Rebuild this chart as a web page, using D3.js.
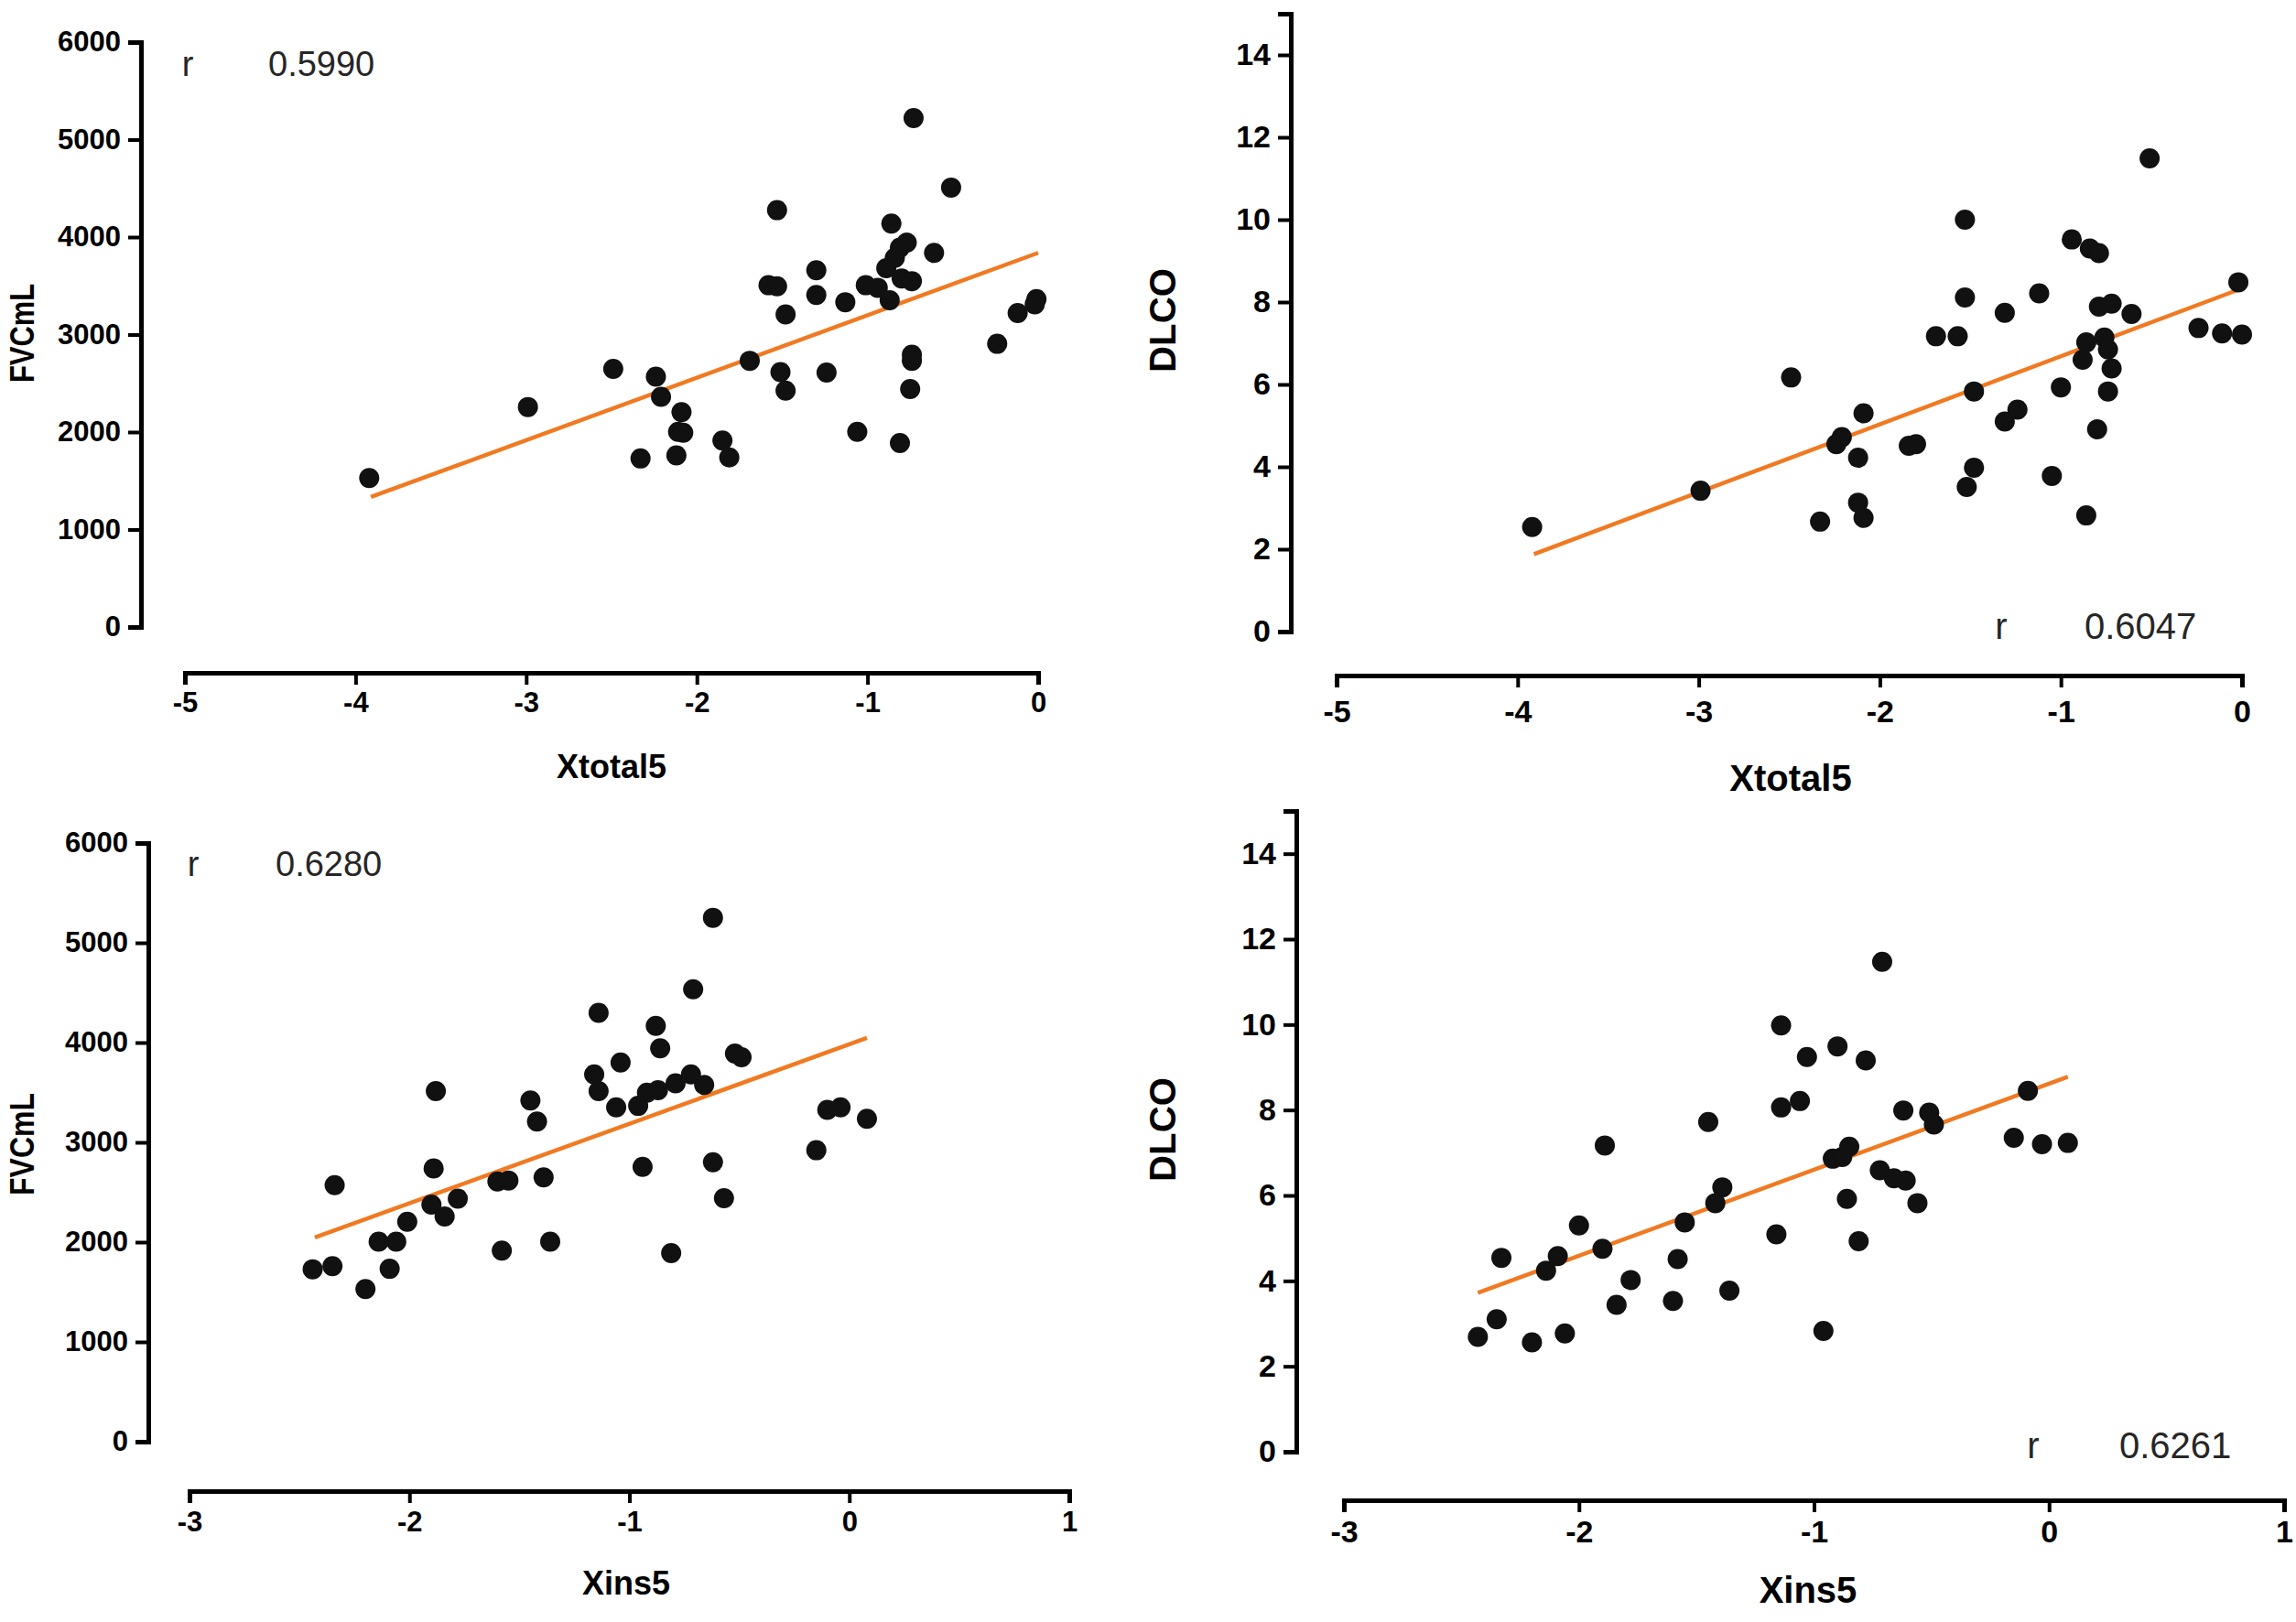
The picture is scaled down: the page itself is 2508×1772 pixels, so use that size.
<!DOCTYPE html>
<html>
<head>
<meta charset="utf-8">
<script src="https://cdn.jsdelivr.net/npm/d3@7"></script>
<style>
  body { margin: 0; background: #fff; }
  .tick text { font-family: "Liberation Sans", Arial, sans-serif; font-weight: bold; fill: #000; }
  .domain { stroke: #000; stroke-width: 5; }
  .tick line { stroke: #000; stroke-width: 4; }
  .ttl { font-family: "Liberation Sans", Arial, sans-serif; font-weight: bold; fill: #000; }
  .rtxt { font-family: "Liberation Sans", Arial, sans-serif; fill: #262626; }
</style>
</head>
<body>
<script>
// tick labels
var fvcTicks = [0, 1000, 2000, 3000, 4000, 5000, 6000];
var dlcoTicks = [0, 2, 4, 6, 8, 10, 12, 14];
var xtotalTicks = [-5, -4, -3, -2, -1, 0];
var xinsTicks = [-3, -2, -1, 0, 1];

// FVC (mL) vs Xtotal5
var fvcXtotal = [
  [-3.92,1529],[-2.99,2257],[-2.49,2647],[-2.24,2568],[-2.21,2362],[-2.33,1729],
  [-2.09,2204],[-2.11,2003],[-2.08,1993],[-2.12,1761],[-1.85,1914],[-1.81,1740],
  [-1.69,2731],[-1.58,3506],[-1.53,3496],[-1.53,4276],[-1.51,2615],[-1.48,2425],
  [-1.48,3206],[-1.30,3659],[-1.30,3406],[-1.24,2610],[-1.13,3332],[-1.06,2003],
  [-1.01,3506],[-0.94,3480],[-0.87,3353],[-0.86,4139],[-0.89,3680],[-0.84,3786],
  [-0.81,3891],[-0.77,3944],[-0.80,3575],[-0.74,3548],[-0.73,5220],[-0.74,2794],
  [-0.74,2731],[-0.75,2441],[-0.81,1888],[-0.61,3838],[-0.51,4508],[-0.24,2905],
  [-0.12,3221],[-0.02,3311],[-0.01,3364]
];

// DLCO vs Xtotal5
var dlcoXtotal = [
  [-3.92,2.54],[-2.99,3.42],[-2.49,6.17],[-2.33,2.67],[-2.24,4.55],[-2.21,4.72],
  [-2.12,4.22],[-2.12,3.13],[-2.09,2.76],[-2.09,5.30],[-1.84,4.51],[-1.80,4.55],
  [-1.69,7.17],[-1.57,7.17],[-1.53,10.0],[-1.53,8.11],[-1.52,3.51],[-1.48,5.83],
  [-1.48,3.98],[-1.31,7.74],[-1.31,5.10],[-1.24,5.39],[-1.12,8.21],[-1.05,3.78],
  [-1.00,5.93],[-0.94,9.52],[-0.88,6.60],[-0.86,7.02],[-0.86,2.82],[-0.84,9.30],
  [-0.79,9.19],[-0.80,4.91],[-0.79,7.89],[-0.76,7.14],[-0.74,6.85],[-0.72,7.96],
  [-0.72,6.39],[-0.74,5.83],[-0.61,7.71],[-0.51,11.49],[-0.24,7.37],[-0.11,7.24],
  [-0.02,8.48],[0.00,7.21]
];

// FVC (mL) vs Xins5
var fvcXins = [
  [-2.44,1728],[-2.35,1759],[-2.34,2571],[-2.20,1529],[-2.14,2005],[-2.06,2005],
  [-2.09,1733],[-2.01,2204],[-1.90,2377],[-1.89,2738],[-1.88,3513],[-1.84,2257],
  [-1.78,2435],[-1.60,2607],[-1.55,2618],[-1.58,1916],[-1.45,3419],[-1.42,3209],
  [-1.39,2649],[-1.36,2005],[-1.16,3681],[-1.14,3513],[-1.14,4298],[-1.06,3351],
  [-1.04,3801],[-0.96,3366],[-0.94,2754],[-0.92,3497],[-0.87,3523],[-0.88,4168],
  [-0.86,3942],[-0.81,1890],[-0.79,3592],[-0.72,3681],[-0.71,4534],[-0.66,3576],
  [-0.62,5251],[-0.62,2801],[-0.57,2440],[-0.52,3890],[-0.49,3853],[-0.15,2921],
  [-0.10,3325],[-0.04,3351],[0.08,3236]
];

// DLCO vs Xins5
var dlcoXins = [
  [-2.43,2.69],[-2.35,3.10],[-2.33,4.54],[-2.20,2.56],[-2.14,4.24],[-2.09,4.58],
  [-2.06,2.77],[-2.00,5.30],[-1.90,4.75],[-1.89,7.17],[-1.84,3.44],[-1.78,4.02],
  [-1.60,3.53],[-1.58,4.51],[-1.55,5.37],[-1.45,7.72],[-1.42,5.82],[-1.39,6.19],
  [-1.36,3.77],[-1.16,5.09],[-1.14,9.98],[-1.14,8.06],[-1.06,8.21],[-1.03,9.24],
  [-0.96,2.83],[-0.92,6.86],[-0.90,9.49],[-0.88,6.90],[-0.86,5.92],[-0.85,7.14],
  [-0.81,4.93],[-0.78,9.16],[-0.72,6.59],[-0.71,11.47],[-0.66,6.40],[-0.61,6.35],
  [-0.62,7.99],[-0.56,5.82],[-0.51,7.94],[-0.49,7.66],[-0.15,7.35],[-0.09,8.45],
  [-0.03,7.20],[0.08,7.23]
];

// fitted lines (end points)
var fitFvcXtotal = [[-3.91,1334],[0.00,3838]];
var fitDlcoXtotal = [[-3.91,1.88],[-0.02,8.30]];
var fitFvcXins = [[-2.43,2047],[0.08,4047]];
var fitDlcoXins = [[-2.43,3.72],[0.08,8.78]];

var rValues = ["0.5990", "0.6047", "0.6280", "0.6261"];

var W = 2508, H = 1772;
var svg = d3.select("body").append("svg").attr("width", W).attr("height", H);

var plain = function(d){ return String(d); };

function drawPanel(p) {
  var g = svg.append("g");
  var x = d3.scaleLinear().domain(p.xDom).range(p.xRange);
  var y = d3.scaleLinear().domain(p.yDom).range(p.yRange);

  var yAxis = g.append("g")
    .attr("transform", "translate(" + p.yAxisX + ",0)")
    .call(d3.axisLeft(y).tickValues(p.yTicks).tickFormat(plain).tickSizeOuter(0).tickSize(14).tickPadding(8));
  yAxis.selectAll("text").style("font-size", p.tickFont + "px");

  var xAxis = g.append("g")
    .attr("transform", "translate(0," + p.xAxisY + ")")
    .call(d3.axisBottom(x).tickValues(p.xTicks).tickFormat(plain).tickSizeOuter(0).tickSize(13).tickPadding(p.xPad));
  xAxis.selectAll("text").style("font-size", p.tickFont + "px");

  g.append("text").attr("class", "ttl")
    .attr("x", p.xTitle[0]).attr("y", p.xTitle[1])
    .attr("text-anchor", "middle").attr("dominant-baseline", "central")
    .style("font-size", p.titleFont + "px")
    .text(p.xLabel);

  g.append("text").attr("class", "ttl")
    .attr("transform", "translate(" + p.yTitle[0] + "," + p.yTitle[1] + ") rotate(-90)")
    .attr("text-anchor", "middle").attr("dominant-baseline", "central")
    .attr("textLength", p.yTitleLen).attr("lengthAdjust", "spacingAndGlyphs")
    .style("font-size", p.titleFont + "px")
    .text(p.yLabel);

  g.append("text").attr("class", "rtxt")
    .attr("x", p.rPos[0]).attr("y", p.rPos[1])
    .attr("text-anchor", "middle").attr("dominant-baseline", "central")
    .style("font-size", p.rFont + "px")
    .text("r");
  g.append("text").attr("class", "rtxt")
    .attr("x", p.rNumX).attr("y", p.rPos[1])
    .attr("dominant-baseline", "central")
    .style("font-size", p.rFont + "px")
    .text(p.r);

  g.append("path")
    .datum(p.fit)
    .attr("fill", "none")
    .attr("stroke", "#f07a22")
    .attr("stroke-width", 4.5)
    .attr("d", d3.line().x(function(d){ return x(d[0]); }).y(function(d){ return y(d[1]); }));

  g.selectAll("circle")
    .data(p.pts)
    .enter().append("circle")
      .attr("cx", function(d){ return x(d[0]); })
      .attr("cy", function(d){ return y(d[1]); })
      .attr("r", 11)
      .attr("fill", "#111");
}

drawPanel({
  xDom: [-5, 0], xRange: [202, 1134], yDom: [0, 6000], yRange: [685, 46],
  yAxisX: 154, xAxisY: 735, xTicks: xtotalTicks, yTicks: fvcTicks, xPad: 8,
  xLabel: "Xtotal5", yLabel: "FVCmL", xTitle: [668, 837], yTitle: [24, 364], yTitleLen: 108,
  tickFont: 31, titleFont: 36, rFont: 38, rPos: [205, 70], rNumX: 293, r: rValues[0],
  pts: fvcXtotal, fit: fitFvcXtotal
});

drawPanel({
  xDom: [-5, 0], xRange: [1460, 2449], yDom: [0, 15], yRange: [690, 15],
  yAxisX: 1410, xAxisY: 738, xTicks: xtotalTicks, yTicks: dlcoTicks, xPad: 14,
  xLabel: "Xtotal5", yLabel: "DLCO", xTitle: [1956, 850], yTitle: [1270, 350], yTitleLen: 114,
  tickFont: 34, titleFont: 40, rFont: 40, rPos: [2186, 684], rNumX: 2277, r: rValues[1],
  pts: dlcoXtotal, fit: fitDlcoXtotal
});

drawPanel({
  xDom: [-3, 1], xRange: [207, 1168], yDom: [0, 6000], yRange: [1575, 921],
  yAxisX: 162, xAxisY: 1629, xTicks: xinsTicks, yTicks: fvcTicks, xPad: 9,
  xLabel: "Xins5", yLabel: "FVCmL", xTitle: [684, 1729], yTitle: [24, 1250], yTitleLen: 112,
  tickFont: 31, titleFont: 36, rFont: 38, rPos: [211, 944], rNumX: 301, r: rValues[2],
  pts: fvcXins, fit: fitFvcXins
});

drawPanel({
  xDom: [-3, 1], xRange: [1468, 2495], yDom: [0, 15], yRange: [1586, 886],
  yAxisX: 1416, xAxisY: 1639, xTicks: xinsTicks, yTicks: dlcoTicks, xPad: 9,
  xLabel: "Xins5", yLabel: "DLCO", xTitle: [1975, 1737], yTitle: [1270, 1234], yTitleLen: 114,
  tickFont: 34, titleFont: 40, rFont: 40, rPos: [2221, 1579], rNumX: 2315, r: rValues[3],
  pts: dlcoXins, fit: fitDlcoXins
});
</script>
</body>
</html>
